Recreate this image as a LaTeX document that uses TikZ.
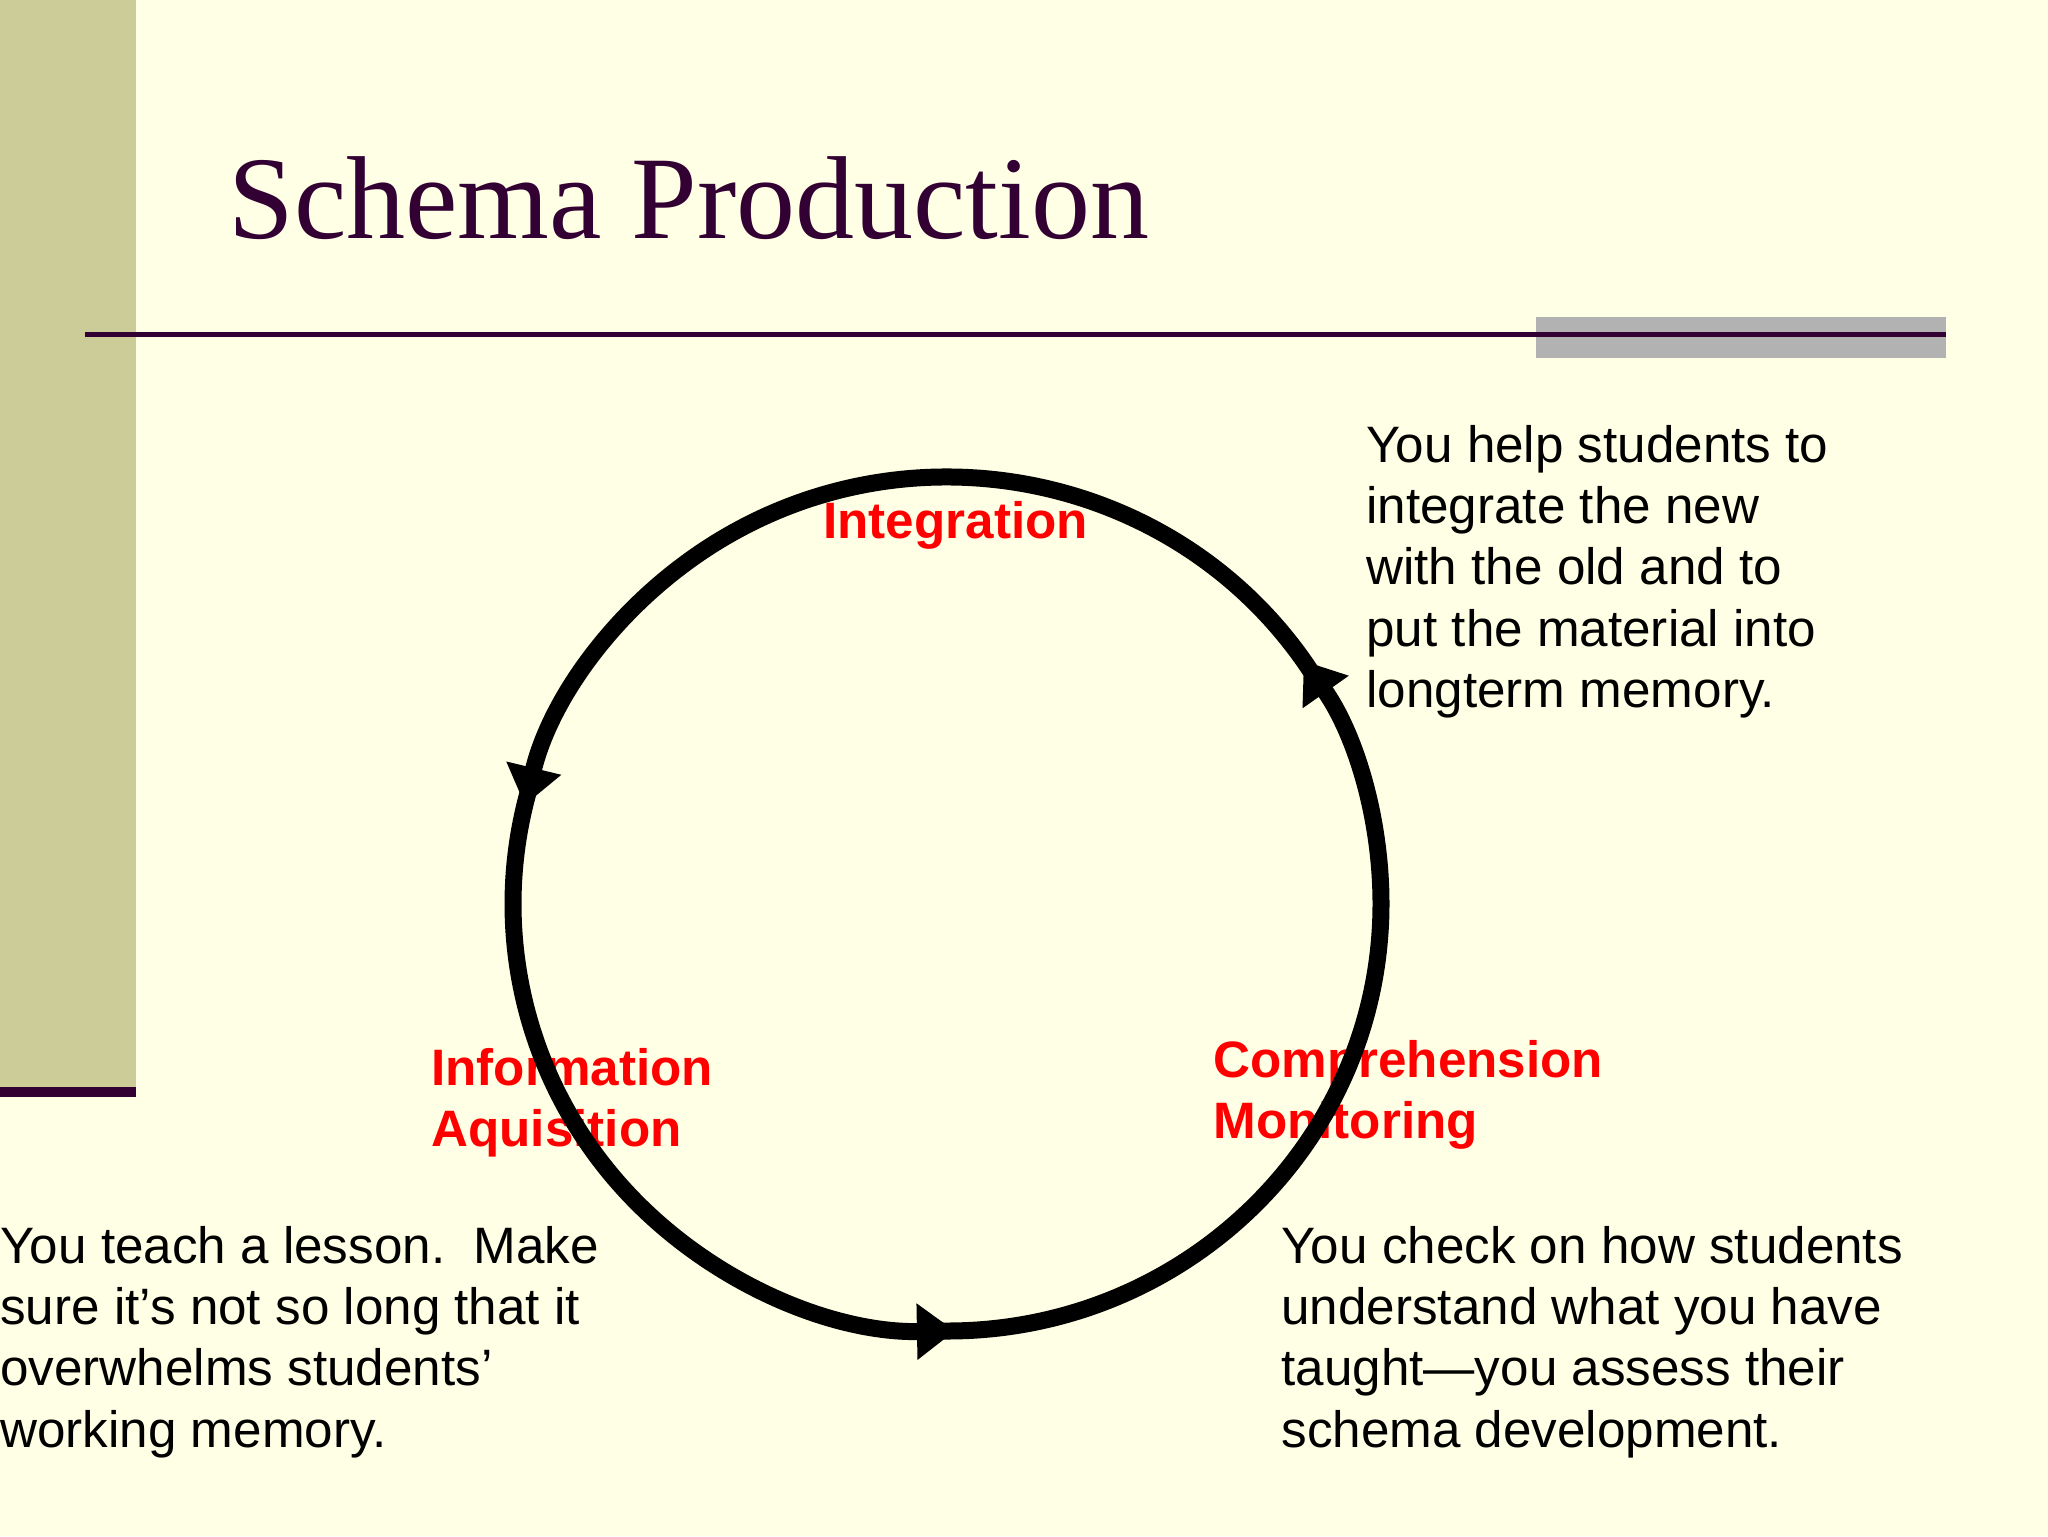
\documentclass[tikz,border=0pt]{standalone}
\usepackage{fontspec}
\setmainfont{Liberation Sans}
\newfontfamily\titlefont{Liberation Serif}
\usetikzlibrary{arrows.meta,calc}
\definecolor{bgcream}{HTML}{FFFFE5}
\definecolor{olivebar}{HTML}{CCCC99}
\definecolor{plum}{HTML}{330033}
\definecolor{grayband}{HTML}{B2B2B2}
\definecolor{labelred}{HTML}{FF0000}
\newcommand{\lines}[1]{\begin{tabular}[t]{@{}l@{}}#1\end{tabular}}
\begin{document}
\begin{tikzpicture}[x=0.5pt,y=-0.5pt,
  body/.style={anchor=base west, inner sep=0pt, font=\fontsize{25.6}{30.7}\selectfont, text=black},
  stage/.style={anchor=base west, inner sep=0pt, font=\fontsize{25.6}{30.9}\selectfont\bfseries, text=labelred},
  cyclearc/.style={line width=8.5pt, draw=black, -{Triangle[length=19pt,width=27pt]}}]
\fill[bgcream] (0,0) rectangle (2048,1536);
\useasboundingbox (0,0) rectangle (2048,1536);
% left band
\fill[olivebar] (0,0) rectangle (136,1087);
\fill[plum] (0,1087) rectangle (136,1097);
% title rule
\fill[grayband] (1536,317) rectangle (1946,358);
\draw[plum, line width=2.5pt] (85,334) -- (1946,334);
% title
\node[anchor=base west, inner sep=0pt, text=plum, font=\titlefont\fontsize{59}{70}\selectfont] (title) at (228,238) {Schema Production};
% stage labels
\node[stage] (integ) at (823,538) {Integration};
\node[stage] (infoacq) at (431,1085) {\lines{Information\\Aquisition}};
\node[stage] (compmon) at (1213,1077) {\lines{Comprehension\\Monitoring}};
% cycle: each arc starts just behind the previous arrow tip
\coordinate (c) at (947,904);
\coordinate (ptr) at ($(c)+(-31.7:434 and 427)$);
\coordinate (plft) at ($(c)+(-163.6:434 and 427)$);
\coordinate (pbot) at ($(c)+(-268.05:434 and 427)$);
\draw[cyclearc] (ptr) arc[start angle=-31.7, end angle=-166.6, x radius=434, y radius=427];
\draw[cyclearc] (plft) arc[start angle=-163.6, end angle=-271.05, x radius=434, y radius=427];
\draw[cyclearc] (pbot) arc[start angle=-268.05, end angle=-394.7, x radius=434, y radius=427];
% notes
\node[body] (note1) at (1366,462) {\lines{You help students to\\integrate the new\\with the old and to\\put the material into\\longterm memory.}};
\node[body] (note2) at (0,1263) {\lines{You teach a lesson.\ \ Make\\sure it’s not so long that it\\overwhelms students’\\working memory.}};
\node[body] (note3) at (1281,1263) {\lines{You check on how students\\understand what you have\\taught—you assess their\\schema development.}};
\end{tikzpicture}
\end{document}
